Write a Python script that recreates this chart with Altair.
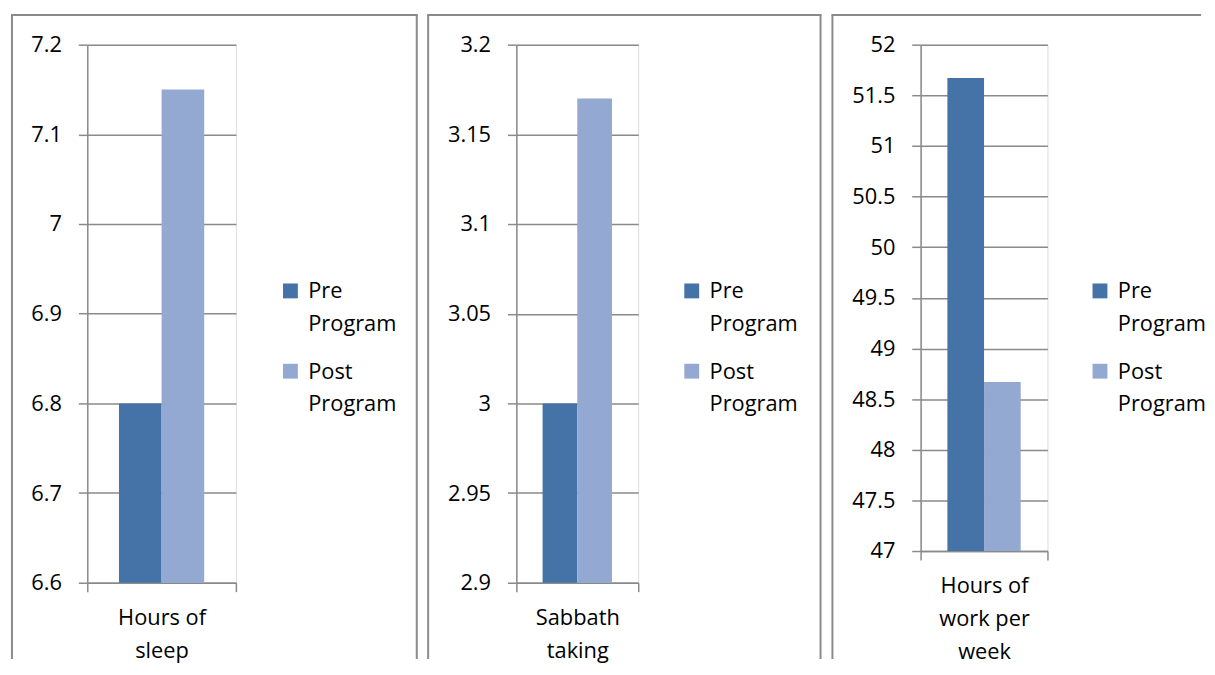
import altair as alt
import pandas as pd

# ---- data ----
categories = ["Hours of sleep", "Sabbath taking", "Hours of work per week"]
category_lines = [["Hours of", "sleep"], ["Sabbath", "taking"], ["Hours of", "work per", "week"]]
phases = ["Pre Program", "Post Program"]
pre_values = [6.8, 3.0, 51.67]
post_values = [7.15, 3.17, 48.67]
y_domains = [[6.6, 7.2], [2.9, 3.2], [47, 52]]
y_ticks = [
    [6.6, 6.7, 6.8, 6.9, 7.0, 7.1, 7.2],
    [2.9, 2.95, 3.0, 3.05, 3.1, 3.15, 3.2],
    [47, 47.5, 48, 48.5, 49, 49.5, 50, 50.5, 51, 51.5, 52],
]
colors = ["#4572A7", "#94A9D1"]

# ---- layout (pixels) ----
plot_w = [150, 123, 128]
plot_h = [543, 543, 511]
offset_pad = [0.744, 0.757, 0.73]
# frame edges relative to each plot's origin
frame_left = [-76, -89, -89]
frame_right = [332.5, 307, None]
frame_top = -30
frame_bottom = 620
panel3_top_end = 283
legend_x = [194, 166, 170]
legend_y = 245

FONT = "Open Sans"
GRAY = "#8a8a8a"


def rule(x1, y1, x2, y2):
    return alt.Chart(pd.DataFrame({"f": [0]})).mark_rule(
        stroke=GRAY, strokeWidth=2
    ).encode(x=alt.value(x1), x2=alt.value(x2), y=alt.value(y1), y2=alt.value(y2))


def panel(i):
    df = pd.DataFrame({
        "category": [categories[i]] * 2,
        "phase": phases,
        "value": [pre_values[i], post_values[i]],
    })
    label_expr = (
        "datum.label == '' ? '' : ["
        + ", ".join("'" + s + "'" for s in category_lines[i])
        + "]"
    )
    bars = alt.Chart(df).mark_bar().encode(
        x=alt.X(
            "category:N",
            scale=alt.Scale(paddingInner=0, paddingOuter=0),
            axis=alt.Axis(
                title=None, labelAngle=0, labelExpr=label_expr, tickBand="extent",
                tickSize=9, tickColor=GRAY, tickWidth=1.5, domainColor=GRAY, domainWidth=1.5,
                labelFontSize=22, labelFont=FONT, labelColor="black", labelPadding=16,
                labelLineHeight=33, grid=False,
            ),
        ),
        xOffset=alt.XOffset(
            "phase:N", sort=phases,
            scale=alt.Scale(paddingInner=0, paddingOuter=offset_pad[i]),
        ),
        y=alt.Y(
            "value:Q",
            scale=alt.Scale(domain=y_domains[i], zero=False, nice=False),
            axis=alt.Axis(
                title=None, values=y_ticks[i], format="~g", grid=True, gridColor=GRAY,
                gridWidth=1.5, domainColor=GRAY, domainWidth=1.5, tickColor=GRAY,
                tickWidth=1.5, tickSize=9, labelFontSize=22, labelFont=FONT,
                labelColor="black", labelPadding=17,
            ),
        ),
        y2=alt.datum(y_domains[i][0]),
        color=alt.Color(
            "phase:N", sort=phases,
            scale=alt.Scale(domain=phases, range=colors),
            legend=alt.Legend(
                title=None, orient="none", legendX=legend_x[i], legendY=legend_y,
                direction="vertical", padding=0, symbolType="M-1,-2H1V0H-1Z",
                symbolSize=225, symbolStrokeWidth=0, labelExpr="split(datum.label, ' ')",
                labelBaseline="alphabetic", labelFontSize=22, labelFont=FONT,
                labelColor="black", labelOffset=7, rowPadding=26, labelLimit=300,
            ),
        ),
    )
    left = frame_left[i]
    right = frame_right[i]
    layers = [rule(left, frame_top, left, frame_bottom)]
    if right is not None:
        layers.append(rule(left - 1, frame_top, right + 1, frame_top))
        layers.append(rule(right, frame_top, right, frame_bottom))
    else:
        layers.append(rule(left - 1, frame_top, panel3_top_end, frame_top))
    layers.append(bars)
    return alt.layer(*layers).properties(width=plot_w[i], height=plot_h[i])


chart = (
    alt.hconcat(panel(0), panel(1), panel(2), spacing=6)
    .resolve_scale(x="independent", y="independent", color="independent", xOffset="independent")
    .properties(padding={"left": 1, "top": 2, "right": 0, "bottom": 0})
    .configure_view(stroke=None)
    .configure(font=FONT, style={"guide-label": {"lineHeight": 33}})
)

chart.save("out.html", embed_options={"renderer": "svg", "actions": False})
